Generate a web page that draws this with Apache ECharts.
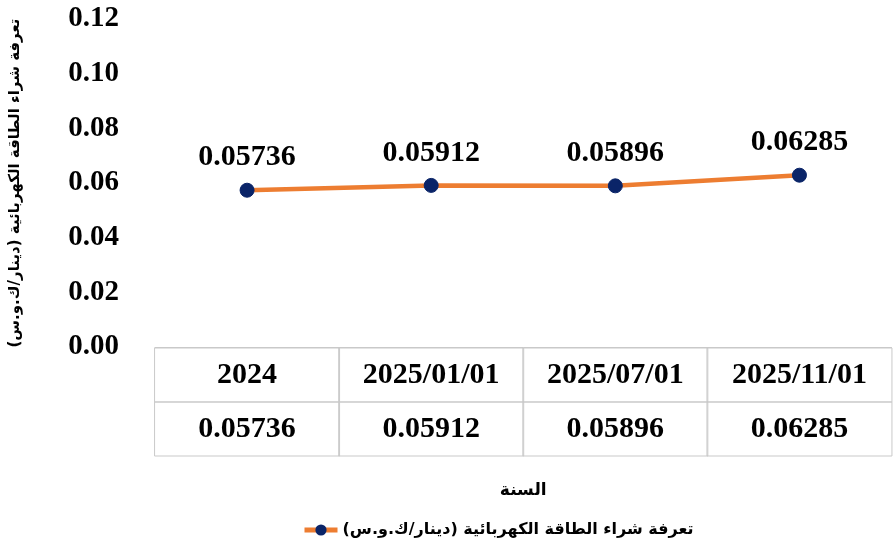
<!DOCTYPE html>
<html>
<head>
<meta charset="utf-8">
<script src="https://cdn.jsdelivr.net/npm/echarts@6/dist/echarts.min.js"></script>
<style>
html,body{margin:0;padding:0;background:#fff;}
#chart{width:895px;height:545px;}
</style>
</head>
<body>
<div id="chart"></div>
<script>
const categories = ['2024', '2025/01/01', '2025/07/01', '2025/11/01'];
const values = [0.05736, 0.05912, 0.05896, 0.06285];
const seriesName = 'تعرفة شراء الطاقة الكهربائية (دينار/ك.و.س)';
const yAxisTitle = 'تعرفة شراء الطاقة الكهربائية (دينار/ك.و.س)';
const xAxisTitle = 'السنة';
const yMin = 0, yMax = 0.12, yStep = 0.02;

const serif = "'Liberation Serif', 'Times New Roman', serif";
const arabic = "'DejaVu Sans', 'Noto Sans', sans-serif";
const cellBorder = '#c9c9c9';

const chart = echarts.init(document.getElementById('chart'), null, {renderer: 'canvas'});
chart.setOption({
  backgroundColor: '#ffffff',
  animation: false,
  grid: {left: 155, right: 0, top: 19, bottom: 198, containLabel: false},
  legend: {
    left: 297, top: 517,
    itemWidth: 33, itemHeight: 14, itemGap: 10,
    lineStyle: {width: 5},
    textStyle: {fontFamily: arabic, fontWeight: 'bold', fontSize: 16, color: '#000'},
    data: [seriesName]
  },
  xAxis: {
    type: 'category',
    data: categories,
    boundaryGap: true,
    name: xAxisTitle,
    nameLocation: 'middle',
    nameGap: 135,
    nameTextStyle: {fontFamily: arabic, fontWeight: 'bold', fontSize: 17, color: '#000'},
    axisLine: {show: true, lineStyle: {color: cellBorder, width: 1}},
    axisTick: {show: false},
    splitLine: {show: false},
    axisLabel: {
      interval: 0,
      margin: 1,
      hideOverlap: false,
      formatter: function (v, i) {
        return '{a|' + v + '}\n{b|' + values[i].toFixed(5) + '}';
      },
      rich: {
        a: {width: 185, height: 54, lineHeight: 54, align: 'center', verticalAlign: 'middle',
            borderColor: cellBorder, borderWidth: 1,
            fontFamily: serif, fontWeight: 'bold', fontSize: 30, color: '#000'},
        b: {width: 185, height: 54, lineHeight: 54, align: 'center', verticalAlign: 'middle',
            borderColor: cellBorder, borderWidth: 1,
            fontFamily: serif, fontWeight: 'bold', fontSize: 30, color: '#000'}
      }
    }
  },
  yAxis: {
    type: 'value',
    min: yMin, max: yMax, interval: yStep,
    name: yAxisTitle,
    nameLocation: 'middle',
    nameGap: 132,
    nameTextStyle: {fontFamily: arabic, fontWeight: 'bold', fontSize: 15, color: '#000'},
    axisLine: {show: false},
    axisTick: {show: false},
    splitLine: {show: false},
    axisLabel: {
      margin: 36,
      padding: [0, 0, 6, 0],
      formatter: function (v) { return v.toFixed(2); },
      fontFamily: serif, fontWeight: 'bold', fontSize: 29, color: '#000'
    }
  },
  series: [{
    name: seriesName,
    type: 'line',
    data: values,
    symbol: 'circle',
    symbolSize: 14,
    lineStyle: {color: '#ED7D31', width: 4.5},
    itemStyle: {color: '#0A2468', borderColor: '#0A2468'},
    label: {
      show: true,
      position: 'top',
      distance: 10,
      formatter: function (p) { return p.value.toFixed(5); },
      fontFamily: serif, fontWeight: 'bold', fontSize: 30, color: '#000'
    }
  }]
});
</script>
</body>
</html>
